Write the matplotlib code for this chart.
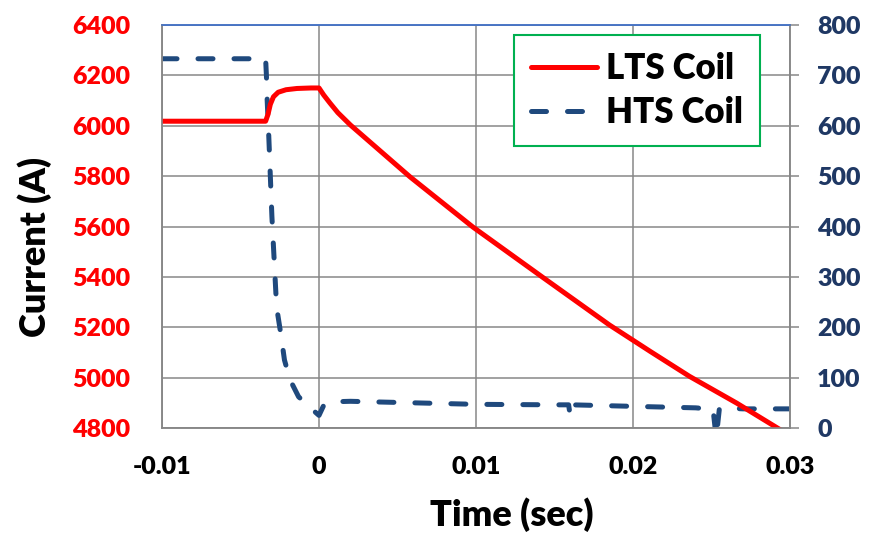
import matplotlib
matplotlib.use("Agg")
import matplotlib.pyplot as plt
from matplotlib.lines import Line2D

plt.rcParams['font.family'] = ['Lato', 'DejaVu Sans']
plt.rcParams['font.weight'] = 'bold'

# LTS coil current (left axis, A)
t_lts = [-0.01, -0.0034, -0.00325, -0.0031, -0.0029, -0.0026, -0.0021, -0.0014,
         -0.0005, 0.0, 0.0003, 0.0007, 0.0012, 0.002, 0.0058, 0.0098, 0.0143,
         0.0185, 0.0211, 0.0236, 0.0266, 0.0292, 0.0305]
i_lts = [6018, 6018, 6045, 6085, 6115, 6133, 6143, 6148,
         6150, 6150, 6122, 6090, 6052, 6003, 5797, 5598, 5396,
         5209, 5104, 5005, 4899, 4800, 4750]

# HTS coil current (right axis, A)
t_hts = [-0.01, -0.0034, -0.00335, -0.0033, -0.0032, -0.003, -0.0027, -0.0024,
         -0.0022, -0.00185, -0.0013, -0.0004, 0.0, 0.0003, 0.0008, 0.002,
         0.006, 0.010, 0.015, 0.0159, 0.016, 0.0161, 0.020, 0.024, 0.0251,
         0.0253, 0.0255, 0.0257, 0.027, 0.03]
i_hts = [733, 733, 700, 650, 580, 420, 240, 180,
         135, 96, 62, 36, 25, 45, 52, 53,
         50, 47, 46, 46, 24, 46, 43, 40, 37,
         -20, 38, 40, 38, 38]

x_ticks = [-0.01, 0, 0.01, 0.02, 0.03]
x_labels = ['-0.01', '0', '0.01', '0.02', '0.03']
left_ticks = list(range(4800, 6401, 200))
right_ticks = list(range(0, 801, 100))

red = '#FF0000'
blue = '#1F497D'
navy = '#1F3864'
grey = '#878787'
dash = (0, (3.0, 4.2))

fig = plt.figure(figsize=(8.75, 5.42), dpi=100)
ax2 = fig.add_axes([162/875, 1 - 428/542, 628/875, 403/542])
ax = ax2.twinx()
ax.set_zorder(ax2.get_zorder() + 1)
ax.patch.set_visible(False)

# grid and HTS on the lower (right-scale) axes
ax2.plot(t_hts, i_hts, color=blue, lw=3.6, linestyle=dash,
         dash_capstyle='round', solid_capstyle='round')
ax2.set_ylim(0, 800)
ax2.set_yticks(right_ticks)
ax2.grid(True, color=grey, lw=1.1)
ax2.set_axisbelow(True)

ax.plot(t_lts, i_lts, color=red, lw=3.6, solid_capstyle='round')
ax.set_ylim(4800, 6400)
ax.set_yticks(left_ticks)
ax.set_xlim(-0.01, 0.03)
ax2.set_xticks(x_ticks)
ax2.set_xticklabels(x_labels)

ax.yaxis.tick_left()
ax.yaxis.set_label_position('left')
ax2.yaxis.tick_right()

ax.tick_params(axis='y', length=0, pad=23, labelsize=18, labelcolor=red)
ax2.tick_params(axis='y', length=6.5, width=1.1, color=grey, pad=13,
                labelsize=18, labelcolor=navy, right=True, left=False)
ax2.tick_params(axis='x', length=0, pad=20, labelsize=18, labelcolor='black')
ax.tick_params(axis='x', length=0, labelbottom=False)
for lab in ax.get_yticklabels() + ax2.get_yticklabels() + ax2.get_xticklabels():
    lab.set_fontweight('heavy')

for a in (ax, ax2):
    for s in ('left', 'right', 'bottom'):
        a.spines[s].set_color(grey)
        a.spines[s].set_linewidth(1.1)
    a.spines['top'].set_color('#4472C4')
    a.spines['top'].set_linewidth(1.1)

ax.set_ylabel('Current (A)', fontsize=26, fontweight='heavy', va='center', ha='center')
ax.yaxis.set_label_coords(-0.202, 0.449)
ax2.set_xlabel('Time (sec)', fontsize=26, fontweight='heavy', va='center', ha='center')
ax2.xaxis.set_label_coords(0.557, -0.216)

handles = [Line2D([], [], color=red, lw=3.6, solid_capstyle='round'),
           Line2D([], [], color=blue, lw=3.6, linestyle=dash,
                  dash_capstyle='round')]
leg = ax.legend(handles, ['LTS Coil', 'HTS Coil'], loc='upper left',
                bbox_to_anchor=(0.56, 0.975), borderaxespad=0,
                prop={'size': 25, 'weight': 'heavy'}, frameon=True,
                fancybox=False, framealpha=1, edgecolor='#00B050',
                handlelength=1.9, handletextpad=0.25, borderpad=0.5,
                labelspacing=0.3)
leg.get_frame().set_linewidth(1.5)

fig.savefig('out.png', dpi=100)
